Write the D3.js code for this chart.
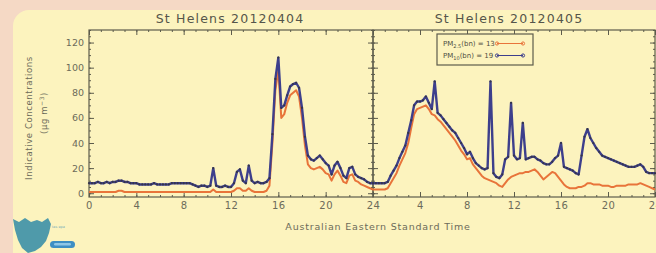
<!DOCTYPE html>
<html>
<head>
<meta charset="utf-8">
<title>St Helens 20120404-05</title>
<script src="https://cdn.jsdelivr.net/npm/d3@7/dist/d3.min.js"></script>
<style>
  body { margin: 0; background: #f5d9c5; }
  svg { display: block; }
  text { font-family: "DejaVu Sans", sans-serif; fill: #6c6b5a; }
  .tick line { stroke: #5d5c4c; }
</style>
</head>
<body>
<svg width="656" height="253"></svg>

<script>

// hours since 00:00 on 4 April, every 15 minutes
const stepHours = 0.25;

// blue series (with dark markers)
const pm10 = [
  // 4 April
  8,8,8,9, 8,8,9,8, 9,9,10,10, 9,9,8,8, 8,7,7,7, 7,7,8,7,
  7,7,7,7, 8,8,8,8, 8,8,8,7, 6,5,6,6, 5,6,20,6, 5,5,6,5,
  5,8,17,19, 10,8,22,10, 8,9,8,8, 9,12,47,91, 108,68,70,78, 85,87,88,84,
  68,45,30,27, 26,28,30,27, 24,22,15,22, 25,20,14,12, 20,21,15,13, 12,11,9,8,
  // 5 April
  8,8,8,8, 8,9,14,18, 22,28,33,38, 48,58,70,73, 73,74,77,72, 67,89,64,62,
  59,56,53,50, 48,44,40,36, 31,33,28,24, 22,20,19,20, 89,16,13,12, 15,27,29,72,
  30,27,28,56, 27,28,29,29, 27,26,24,23, 23,25,28,30, 40,21,20,19, 18,16,15,30,
  45,51,44,40, 36,33,30,29, 28,27,26,25, 24,23,22,21, 21,21,22,23, 21,17,16,16,
  16
];

// orange series
const pm25 = [
  // 4 April
  1,1,1,1, 1,1,1,1, 1,1,2,2, 1,1,1,1, 1,1,1,1, 1,1,1,1,
  1,1,1,1, 1,1,1,1, 1,1,1,1, 1,1,1,1, 1,1,3,1, 1,1,1,1,
  1,2,4,4, 2,2,4,2, 1,1,1,1, 2,6,40,82, 98,60,63,72, 78,80,82,77,
  60,38,23,20, 19,20,21,19, 16,15,10,15, 18,14,9,8, 14,15,10,9, 7,6,5,4,
  // 5 April
  3,3,3,3, 3,4,8,12, 16,22,27,32, 40,52,63,67, 68,69,70,67, 63,62,59,57,
  54,51,48,45, 42,38,34,31, 27,28,23,20, 17,14,12,11, 10,9,8,6, 5,8,11,13,
  14,15,16,16, 17,17,18,19, 17,14,11,13, 15,17,16,13, 10,7,5,4, 4,4,5,5,
  6,8,8,7, 7,7,6,6, 6,5,5,6, 6,6,6,7, 7,7,7,8, 7,6,5,4,
  3
];

const panelTitles = ["St Helens 20120404", "St Helens 20120405"];
const xTicks = [0, 4, 8, 12, 16, 20, 24, 28, 32, 36, 40, 44, 48];
const yTicks = [0, 20, 40, 60, 80, 100, 120];
const legendLabels = [
  { sub: "2.5", text: "(bn) = 13" },
  { sub: "10", text: "(bn) = 19" }
];

const blue = "#3d3f8c";
const orange = "#e8743a";
const axisColor = "#5d5c4c";

const svg = d3.select("svg");

// backdrop: peach page with a rounded pale yellow card
svg.append("rect").attr("width", 656).attr("height", 253).attr("fill", "#f5d9c5");
svg.append("rect")
  .attr("x", 13).attr("y", 10)
  .attr("width", 700).attr("height", 300)
  .attr("rx", 16)
  .attr("fill", "#fcf3be");

const plotTop = 30, plotBottom = 197;
const panels = [
  { x0: 89, x1: 373, domain: [0, 24] },
  { x0: 373, x1: 655, domain: [24, 48] }
];

const y = d3.scaleLinear().domain([-3, 130]).range([plotBottom, plotTop]);
const xAll = d3.scaleLinear().domain([0, 24, 48]).range([89, 373, 655]);

const hourLabel = h => (h === 0 ? 0 : (h % 24 === 0 ? 24 : h % 24));

panels.forEach((p, i) => {
  const x = d3.scaleLinear().domain(p.domain).range([p.x0, p.x1]);
  const g = svg.append("g");
  const majors = xTicks.filter(t => t >= p.domain[0] && t <= p.domain[1]);
  const minors = d3.range(p.domain[0], p.domain[1] + 1);
  const yMinor = d3.range(0, 131, 5);

  // bottom axis with labels
  g.append("g")
    .attr("transform", `translate(0,${plotBottom})`)
    .call(d3.axisBottom(x).tickValues(minors).tickSize(-2).tickFormat(""));
  g.append("g")
    .attr("transform", `translate(0,${plotBottom})`)
    .call(d3.axisBottom(x).tickValues(majors).tickSize(-5).tickPadding(5)
      .tickFormat(d => (i === 1 && d === 24) ? "" : hourLabel(d)))
    .call(a => a.selectAll("text").attr("font-size", 10).style("letter-spacing", "0.5px"));

  // top axis, ticks only
  g.append("g")
    .attr("transform", `translate(0,${plotTop})`)
    .call(d3.axisTop(x).tickValues(minors).tickSize(-2).tickFormat(""));
  g.append("g")
    .attr("transform", `translate(0,${plotTop})`)
    .call(d3.axisTop(x).tickValues(majors).tickSize(-5).tickFormat(""));

  // left / right axes
  g.append("g")
    .attr("transform", `translate(${p.x0},0)`)
    .call(d3.axisLeft(y).tickValues(yMinor).tickSize(-2).tickFormat(""));
  g.append("g")
    .attr("transform", `translate(${p.x0},0)`)
    .call(d3.axisLeft(y).tickValues(yTicks).tickSize(-5).tickPadding(5)
      .tickFormat(d => i === 0 ? d : ""))
    .call(a => a.selectAll("text").attr("font-size", 9.5));
  g.append("g")
    .attr("transform", `translate(${p.x1},0)`)
    .call(d3.axisRight(y).tickValues(yMinor).tickSize(-2).tickFormat(""));
  g.append("g")
    .attr("transform", `translate(${p.x1},0)`)
    .call(d3.axisRight(y).tickValues(yTicks).tickSize(-5).tickFormat(""));

  g.selectAll(".domain").remove();

  g.append("rect")
    .attr("x", p.x0).attr("y", plotTop)
    .attr("width", p.x1 - p.x0).attr("height", plotBottom - plotTop)
    .attr("fill", "none").attr("stroke", axisColor).attr("stroke-width", 1.2);
});

// titles
svg.selectAll(".title").data(panelTitles).enter().append("text")
  .attr("class", "title")
  .attr("x", (d, i) => i === 0 ? 230 : 509)
  .attr("y", 23)
  .attr("text-anchor", "middle")
  .attr("font-size", 12.5)
  .style("letter-spacing", "1.2px")
  .style("fill", "#55554a")
  .text(d => d);

// axis titles
svg.append("text")
  .attr("transform", "translate(32,118) rotate(-90)")
  .attr("text-anchor", "middle")
  .attr("font-size", 8.5)
  .style("letter-spacing", "0.6px")
  .text("Indicative Concentrations");
const yl2 = svg.append("text")
  .attr("transform", "translate(47,113) rotate(-90)")
  .attr("text-anchor", "middle")
  .attr("font-size", 8.5)
  .style("letter-spacing", "0.6px");
yl2.append("tspan").text("(μg m");
yl2.append("tspan").attr("font-size", 6).attr("dy", -3).text("−3");
yl2.append("tspan").attr("dy", 3).text(")");

svg.append("text")
  .attr("x", 378).attr("y", 230)
  .attr("text-anchor", "middle")
  .attr("font-size", 9.5)
  .style("letter-spacing", "0.8px")
  .text("Australian Eastern Standard Time");

// data lines
const series = [
  { values: pm25, color: orange, width: 2 },
  { values: pm10, color: blue, width: 2.4 }
];
const line = d3.line()
  .x((d, i) => xAll(i * stepHours))
  .y(d => y(d));

series.forEach(s => {
  svg.append("path")
    .datum(s.values)
    .attr("d", line)
    .attr("fill", "none")
    .attr("stroke", s.color)
    .attr("stroke-width", s.width)
    .attr("stroke-linejoin", "round");
});

svg.append("g").selectAll("circle").data(pm10).enter().append("circle")
  .attr("cx", (d, i) => xAll(i * stepHours))
  .attr("cy", d => y(d))
  .attr("r", 1.1)
  .attr("fill", "#35354a");

// legend
const lg = svg.append("g").attr("transform", "translate(437,34)");
lg.append("rect")
  .attr("width", 96).attr("height", 31)
  .attr("fill", "#fcf3be")
  .attr("stroke", axisColor).attr("stroke-width", 1.2);
legendLabels.forEach((l, i) => {
  const yy = 12 + i * 12;
  const t = lg.append("text").attr("x", 6).attr("y", yy).attr("font-size", 7).style("fill", "#4e4d40");
  t.append("tspan").text("PM");
  t.append("tspan").attr("font-size", 5).attr("dy", 2).text(l.sub);
  t.append("tspan").attr("dy", -2).text(l.text);
  const c = i === 0 ? orange : blue;
  lg.append("line")
    .attr("x1", 60).attr("x2", 86).attr("y1", yy - 2.5).attr("y2", yy - 2.5)
    .attr("stroke", c).attr("stroke-width", 1);
  [60, 86].forEach(cx => lg.append("circle")
    .attr("cx", cx).attr("cy", yy - 2.5).attr("r", 1.6)
    .attr("fill", "none").attr("stroke", c).attr("stroke-width", 1));
});

// small Tasmania logo
const logo = svg.append("g");
logo.append("path")
  .attr("d", "M13,219 L19,222 L25,218 L31,222 L37,220 L42,222 L48,218 L51,224 L49,233 L46,241 L41,247 L35,251 L28,253 L22,248 L18,240 L15,230 Z")
  .attr("fill", "#4f9aaa");
logo.append("text")
  .attr("x", 52).attr("y", 228)
  .attr("font-size", 3.5)
  .style("fill", "#7fb0b8")
  .text("tas epa");
logo.append("rect")
  .attr("x", 50).attr("y", 241).attr("width", 25).attr("height", 7).attr("rx", 3.5)
  .attr("fill", "#3d8ec4");
logo.append("rect")
  .attr("x", 54).attr("y", 243).attr("width", 17).attr("height", 2.5).attr("rx", 1.2)
  .attr("fill", "#8fc6e6");

</script>
</body>
</html>
